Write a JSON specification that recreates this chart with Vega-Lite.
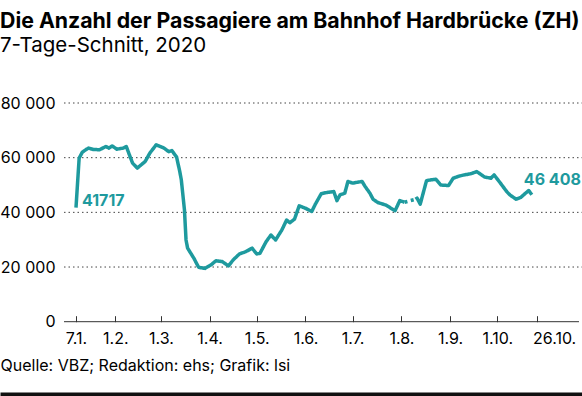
{
  "$schema": "https://vega.github.io/schema/vega-lite/v6.json",
  "width": 582,
  "height": 218.7,
  "autosize": {"type": "none"},
  "padding": {"left": 0, "top": 103, "right": 0, "bottom": 74.3},
  "background": "white",
  "config": {
    "locale": {"number": {"decimal": ",", "thousands": " ", "grouping": [3], "currency": ["", ""]}},
    "font": "Inter",
    "view": {"stroke": null}
  },
  "title": {
    "text": "Die Anzahl der Passagiere am Bahnhof Hardbrücke (ZH)",
    "subtitle": "7-Tage-Schnitt, 2020",
    "anchor": "start",
    "frame": "group",
    "font": "Inter",
    "fontSize": 21.3,
    "fontWeight": "bold",
    "subtitleFont": "Inter",
    "subtitleFontSize": 20.5,
    "subtitleFontWeight": "normal",
    "color": "#000000",
    "subtitleColor": "#000000",
    "offset": 38,
    "subtitlePadding": 4
  },
  "datasets": {
    "series": [
      {"date": "2020-01-07", "value": 41717, "seg": "a"},
      {"date": "2020-01-09", "value": 59800, "seg": "a"},
      {"date": "2020-01-11", "value": 62000, "seg": "a"},
      {"date": "2020-01-14", "value": 63200, "seg": "a"},
      {"date": "2020-01-15", "value": 63500, "seg": "a"},
      {"date": "2020-01-18", "value": 63000, "seg": "a"},
      {"date": "2020-01-22", "value": 62900, "seg": "a"},
      {"date": "2020-01-26", "value": 64100, "seg": "a"},
      {"date": "2020-01-28", "value": 63500, "seg": "a"},
      {"date": "2020-01-30", "value": 64300, "seg": "a"},
      {"date": "2020-02-02", "value": 63100, "seg": "a"},
      {"date": "2020-02-06", "value": 63500, "seg": "a"},
      {"date": "2020-02-08", "value": 64100, "seg": "a"},
      {"date": "2020-02-10", "value": 61000, "seg": "a"},
      {"date": "2020-02-12", "value": 58000, "seg": "a"},
      {"date": "2020-02-15", "value": 56200, "seg": "a"},
      {"date": "2020-02-20", "value": 58600, "seg": "a"},
      {"date": "2020-02-23", "value": 61700, "seg": "a"},
      {"date": "2020-02-27", "value": 64700, "seg": "a"},
      {"date": "2020-03-03", "value": 63500, "seg": "a"},
      {"date": "2020-03-06", "value": 62200, "seg": "a"},
      {"date": "2020-03-08", "value": 62600, "seg": "a"},
      {"date": "2020-03-11", "value": 60200, "seg": "a"},
      {"date": "2020-03-13", "value": 55000, "seg": "a"},
      {"date": "2020-03-14", "value": 51900, "seg": "a"},
      {"date": "2020-03-16", "value": 40900, "seg": "a"},
      {"date": "2020-03-17", "value": 29900, "seg": "a"},
      {"date": "2020-03-18", "value": 26900, "seg": "a"},
      {"date": "2020-03-22", "value": 23200, "seg": "a"},
      {"date": "2020-03-25", "value": 19900, "seg": "a"},
      {"date": "2020-03-27", "value": 19700, "seg": "a"},
      {"date": "2020-03-29", "value": 19500, "seg": "a"},
      {"date": "2020-04-02", "value": 20800, "seg": "a"},
      {"date": "2020-04-05", "value": 22300, "seg": "a"},
      {"date": "2020-04-09", "value": 22000, "seg": "a"},
      {"date": "2020-04-13", "value": 20400, "seg": "a"},
      {"date": "2020-04-16", "value": 22600, "seg": "a"},
      {"date": "2020-04-20", "value": 24800, "seg": "a"},
      {"date": "2020-04-24", "value": 25600, "seg": "a"},
      {"date": "2020-04-28", "value": 26900, "seg": "a"},
      {"date": "2020-05-01", "value": 24800, "seg": "a"},
      {"date": "2020-05-03", "value": 25000, "seg": "a"},
      {"date": "2020-05-07", "value": 29300, "seg": "a"},
      {"date": "2020-05-10", "value": 31700, "seg": "a"},
      {"date": "2020-05-13", "value": 29900, "seg": "a"},
      {"date": "2020-05-17", "value": 33600, "seg": "a"},
      {"date": "2020-05-20", "value": 37200, "seg": "a"},
      {"date": "2020-05-22", "value": 36200, "seg": "a"},
      {"date": "2020-05-25", "value": 37500, "seg": "a"},
      {"date": "2020-05-28", "value": 42400, "seg": "a"},
      {"date": "2020-06-01", "value": 41500, "seg": "a"},
      {"date": "2020-06-05", "value": 40300, "seg": "a"},
      {"date": "2020-06-07", "value": 42700, "seg": "a"},
      {"date": "2020-06-11", "value": 46800, "seg": "a"},
      {"date": "2020-06-14", "value": 47200, "seg": "a"},
      {"date": "2020-06-19", "value": 47600, "seg": "a"},
      {"date": "2020-06-21", "value": 44300, "seg": "a"},
      {"date": "2020-06-23", "value": 46400, "seg": "a"},
      {"date": "2020-06-26", "value": 47000, "seg": "a"},
      {"date": "2020-06-28", "value": 51300, "seg": "a"},
      {"date": "2020-07-01", "value": 50700, "seg": "a"},
      {"date": "2020-07-07", "value": 51300, "seg": "a"},
      {"date": "2020-07-09", "value": 49400, "seg": "a"},
      {"date": "2020-07-12", "value": 47000, "seg": "a"},
      {"date": "2020-07-14", "value": 44800, "seg": "a"},
      {"date": "2020-07-17", "value": 43600, "seg": "a"},
      {"date": "2020-07-22", "value": 42700, "seg": "a"},
      {"date": "2020-07-28", "value": 40600, "seg": "a"},
      {"date": "2020-07-31", "value": 44300, "seg": "a"},
      {"date": "2020-08-03", "value": 43700, "seg": "a"},
      {"date": "2020-08-03", "value": 43700, "seg": "gap"},
      {"date": "2020-08-10", "value": 44800, "seg": "gap"},
      {"date": "2020-08-10", "value": 44800, "seg": "b"},
      {"date": "2020-08-11", "value": 45200, "seg": "b"},
      {"date": "2020-08-13", "value": 43000, "seg": "b"},
      {"date": "2020-08-17", "value": 51600, "seg": "b"},
      {"date": "2020-08-20", "value": 51900, "seg": "b"},
      {"date": "2020-08-23", "value": 52100, "seg": "b"},
      {"date": "2020-08-26", "value": 50000, "seg": "b"},
      {"date": "2020-08-31", "value": 49800, "seg": "b"},
      {"date": "2020-09-03", "value": 52500, "seg": "b"},
      {"date": "2020-09-07", "value": 53300, "seg": "b"},
      {"date": "2020-09-10", "value": 53700, "seg": "b"},
      {"date": "2020-09-14", "value": 54100, "seg": "b"},
      {"date": "2020-09-18", "value": 54900, "seg": "b"},
      {"date": "2020-09-21", "value": 53700, "seg": "b"},
      {"date": "2020-09-23", "value": 52900, "seg": "b"},
      {"date": "2020-09-27", "value": 52500, "seg": "b"},
      {"date": "2020-09-29", "value": 53700, "seg": "b"},
      {"date": "2020-10-03", "value": 50700, "seg": "b"},
      {"date": "2020-10-07", "value": 47600, "seg": "b"},
      {"date": "2020-10-09", "value": 46400, "seg": "b"},
      {"date": "2020-10-13", "value": 44800, "seg": "b"},
      {"date": "2020-10-16", "value": 45500, "seg": "b"},
      {"date": "2020-10-21", "value": 48000, "seg": "b"},
      {"date": "2020-10-23", "value": 46408, "seg": "b"}
    ],
    "labels": [
      {"date": "2020-01-07", "value": 41717, "label": "41717", "end": "start"},
      {"date": "2020-10-23", "value": 46408, "label": "46 408", "end": "end"}
    ],
    "grid": [
      {"value": 20000},
      {"value": 40000},
      {"value": 60000},
      {"value": 80000}
    ]
  },
  "layer": [
    {
      "data": {"name": "grid"},
      "mark": {"type": "rule", "color": "#444444", "strokeWidth": 1, "strokeDash": [1.5, 3]},
      "encoding": {
        "x": {
          "datum": {"year": 2019, "month": 12, "date": 30, "hours": 9, "utc": true},
          "type": "temporal",
          "scale": {"type": "utc", "domain": [{"year": 2019, "month": 11, "date": 19, "hours": 15, "minutes": 36, "utc": true}, {"year": 2020, "month": 11, "date": 23, "hours": 22, "utc": true}]},
          "axis": null
        },
        "x2": {"datum": {"year": 2020, "month": 11, "date": 23, "hours": 22, "utc": true}},
        "y": {
          "field": "value",
          "type": "quantitative",
          "scale": {"domain": [0, 80000], "nice": false},
          "axis": {
            "title": null,
            "values": [0, 20000, 40000, 60000, 80000],
            "format": ",d",
            "labelFont": "Inter",
            "labelFontSize": 16,
            "labelColor": "#000000",
            "labelPadding": -55,
            "labelAlign": "right",
            "ticks": false,
            "domain": false,
            "grid": false
          }
        }
      }
    },
    {
      "data": {"values": [{}]},
      "mark": {"type": "rule", "color": "#333333", "strokeWidth": 1},
      "encoding": {
        "x": {
          "datum": {"year": 2019, "month": 12, "date": 30, "hours": 9, "utc": true},
          "type": "temporal",
          "scale": {"type": "utc", "domain": [{"year": 2019, "month": 11, "date": 19, "hours": 15, "minutes": 36, "utc": true}, {"year": 2020, "month": 11, "date": 23, "hours": 22, "utc": true}]},
          "axis": {
            "orient": "top",
            "offset": -291,
            "domain": true,
            "domainColor": "#111111",
            "domainWidth": 4,
            "ticks": false,
            "labels": false,
            "grid": false,
            "title": null
          }
        },
        "x2": {"datum": {"year": 2020, "month": 11, "date": 22, "utc": true}},
        "y": {"datum": 0, "type": "quantitative"}
      }
    },
    {
      "data": {"name": "series"},
      "mark": {"type": "line", "color": "#1e9a9e", "strokeWidth": 3.5, "strokeJoin": "round", "strokeCap": "butt"},
      "encoding": {
        "x": {
          "field": "date",
          "type": "temporal",
          "scale": {"type": "utc", "domain": [{"year": 2019, "month": 11, "date": 19, "hours": 15, "minutes": 36, "utc": true}, {"year": 2020, "month": 11, "date": 23, "hours": 22, "utc": true}]},
          "axis": {
            "orient": "bottom",
            "title": "Quelle: VBZ; Redaktion: ehs; Grafik: lsi",
            "titleFont": "Inter",
            "titleFontSize": 16,
            "titleFontWeight": "normal",
            "titleColor": "#000000",
            "titleAlign": "left",
            "titleBaseline": "alphabetic",
            "titleX": 0,
            "titleY": 49,
            "values": [
              {"year": 2020, "month": 1, "date": 7, "utc": true},
              {"year": 2020, "month": 2, "date": 1, "utc": true},
              {"year": 2020, "month": 3, "date": 1, "utc": true},
              {"year": 2020, "month": 4, "date": 1, "utc": true},
              {"year": 2020, "month": 5, "date": 1, "utc": true},
              {"year": 2020, "month": 6, "date": 1, "utc": true},
              {"year": 2020, "month": 7, "date": 1, "utc": true},
              {"year": 2020, "month": 8, "date": 1, "utc": true},
              {"year": 2020, "month": 9, "date": 1, "utc": true},
              {"year": 2020, "month": 10, "date": 1, "utc": true},
              {"year": 2020, "month": 10, "date": 26, "utc": true}
            ],
            "format": "%-d.%-m.",
            "labelFont": "Inter",
            "labelFontSize": 16,
            "labelColor": "#000000",
            "labelPadding": 15,
            "labelAlign": {"condition": {"test": "utcdate(datum.value) == 26", "value": "left"}, "value": "center"},
            "labelOffset": {"condition": {"test": "utcdate(datum.value) == 26", "value": -4}, "value": 0},
            "labelFlush": false,
            "labelOverlap": false,
            "domain": false,
            "ticks": true,
            "tickSize": -6,
            "tickColor": "#333333",
            "tickWidth": 1,
            "grid": false
          }
        },
        "y": {"field": "value", "type": "quantitative"},
        "detail": {"field": "seg"},
        "strokeDash": {
          "field": "seg",
          "type": "nominal",
          "scale": {"domain": ["a", "gap", "b"], "range": [[1, 0], [3, 3.5], [1, 0]]},
          "legend": null
        }
      }
    },
    {
      "data": {"name": "labels"},
      "transform": [{"filter": "datum.end == 'start'"}],
      "mark": {"type": "text", "align": "left", "baseline": "middle", "dx": 6, "dy": -7, "font": "Inter", "fontSize": 16, "fontWeight": "bold", "color": "#1e9a9e"},
      "encoding": {
        "x": {"field": "date", "type": "temporal", "axis": null},
        "y": {"field": "value", "type": "quantitative"},
        "text": {"field": "label"}
      }
    },
    {
      "data": {"name": "labels"},
      "transform": [{"filter": "datum.end == 'end'"}],
      "mark": {"type": "text", "align": "left", "baseline": "middle", "dx": -8, "dy": -15, "font": "Inter", "fontSize": 16, "fontWeight": "bold", "color": "#1e9a9e"},
      "encoding": {
        "x": {"field": "date", "type": "temporal", "axis": null},
        "y": {"field": "value", "type": "quantitative"},
        "text": {"field": "label"}
      }
    }
  ]
}
